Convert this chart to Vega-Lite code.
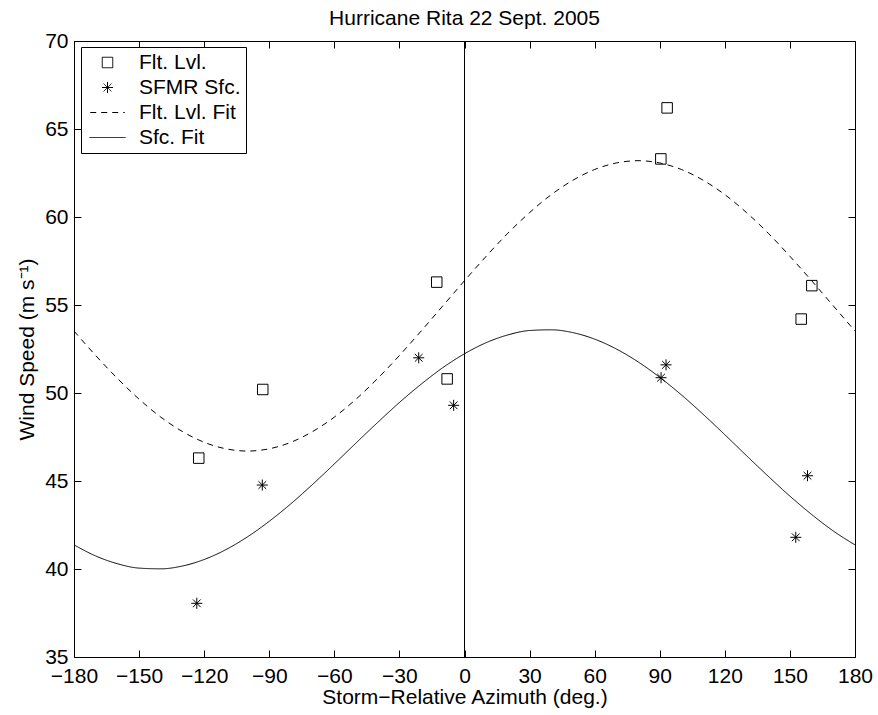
{
  "$schema": "https://vega.github.io/schema/vega-lite/v6.json",
  "width": 781,
  "height": 616,
  "autosize": "none",
  "padding": {"left": 74, "top": 41, "right": 23, "bottom": 58},
  "background": "white",
  "title": {
    "text": "Hurricane Rita 22 Sept. 2005",
    "font": "Liberation Sans",
    "fontSize": 21,
    "fontWeight": "normal",
    "color": "black",
    "anchor": "middle",
    "frame": "group",
    "offset": 1
  },
  "datasets": {
    "fit": [
      {"az": -180, "speed": 53.52, "series": "Flt. Lvl. Fit"},
      {"az": -170, "speed": 52.13, "series": "Flt. Lvl. Fit"},
      {"az": -160, "speed": 50.83, "series": "Flt. Lvl. Fit"},
      {"az": -150, "speed": 49.65, "series": "Flt. Lvl. Fit"},
      {"az": -140, "speed": 48.63, "series": "Flt. Lvl. Fit"},
      {"az": -130, "speed": 47.81, "series": "Flt. Lvl. Fit"},
      {"az": -120, "speed": 47.20, "series": "Flt. Lvl. Fit"},
      {"az": -110, "speed": 46.83, "series": "Flt. Lvl. Fit"},
      {"az": -100, "speed": 46.70, "series": "Flt. Lvl. Fit"},
      {"az": -90, "speed": 46.83, "series": "Flt. Lvl. Fit"},
      {"az": -80, "speed": 47.20, "series": "Flt. Lvl. Fit"},
      {"az": -70, "speed": 47.81, "series": "Flt. Lvl. Fit"},
      {"az": -60, "speed": 48.63, "series": "Flt. Lvl. Fit"},
      {"az": -50, "speed": 49.65, "series": "Flt. Lvl. Fit"},
      {"az": -40, "speed": 50.83, "series": "Flt. Lvl. Fit"},
      {"az": -30, "speed": 52.13, "series": "Flt. Lvl. Fit"},
      {"az": -20, "speed": 53.52, "series": "Flt. Lvl. Fit"},
      {"az": -10, "speed": 54.95, "series": "Flt. Lvl. Fit"},
      {"az": 0, "speed": 56.38, "series": "Flt. Lvl. Fit"},
      {"az": 10, "speed": 57.77, "series": "Flt. Lvl. Fit"},
      {"az": 20, "speed": 59.08, "series": "Flt. Lvl. Fit"},
      {"az": 30, "speed": 60.25, "series": "Flt. Lvl. Fit"},
      {"az": 40, "speed": 61.27, "series": "Flt. Lvl. Fit"},
      {"az": 50, "speed": 62.09, "series": "Flt. Lvl. Fit"},
      {"az": 60, "speed": 62.70, "series": "Flt. Lvl. Fit"},
      {"az": 70, "speed": 63.07, "series": "Flt. Lvl. Fit"},
      {"az": 80, "speed": 63.20, "series": "Flt. Lvl. Fit"},
      {"az": 90, "speed": 63.07, "series": "Flt. Lvl. Fit"},
      {"az": 100, "speed": 62.70, "series": "Flt. Lvl. Fit"},
      {"az": 110, "speed": 62.09, "series": "Flt. Lvl. Fit"},
      {"az": 120, "speed": 61.27, "series": "Flt. Lvl. Fit"},
      {"az": 130, "speed": 60.25, "series": "Flt. Lvl. Fit"},
      {"az": 140, "speed": 59.08, "series": "Flt. Lvl. Fit"},
      {"az": 150, "speed": 57.77, "series": "Flt. Lvl. Fit"},
      {"az": 160, "speed": 56.38, "series": "Flt. Lvl. Fit"},
      {"az": 170, "speed": 54.95, "series": "Flt. Lvl. Fit"},
      {"az": 180, "speed": 53.52, "series": "Flt. Lvl. Fit"},
      {"az": -180, "speed": 41.37, "series": "Sfc. Fit"},
      {"az": -170, "speed": 40.74, "series": "Sfc. Fit"},
      {"az": -160, "speed": 40.30, "series": "Sfc. Fit"},
      {"az": -150, "speed": 40.05, "series": "Sfc. Fit"},
      {"az": -140, "speed": 40.01, "series": "Sfc. Fit"},
      {"az": -130, "speed": 40.17, "series": "Sfc. Fit"},
      {"az": -120, "speed": 40.54, "series": "Sfc. Fit"},
      {"az": -110, "speed": 41.10, "series": "Sfc. Fit"},
      {"az": -100, "speed": 41.83, "series": "Sfc. Fit"},
      {"az": -90, "speed": 42.71, "series": "Sfc. Fit"},
      {"az": -80, "speed": 43.71, "series": "Sfc. Fit"},
      {"az": -70, "speed": 44.81, "series": "Sfc. Fit"},
      {"az": -60, "speed": 45.97, "series": "Sfc. Fit"},
      {"az": -50, "speed": 47.16, "series": "Sfc. Fit"},
      {"az": -40, "speed": 48.33, "series": "Sfc. Fit"},
      {"az": -30, "speed": 49.46, "series": "Sfc. Fit"},
      {"az": -20, "speed": 50.50, "series": "Sfc. Fit"},
      {"az": -10, "speed": 51.44, "series": "Sfc. Fit"},
      {"az": 0, "speed": 52.23, "series": "Sfc. Fit"},
      {"az": 10, "speed": 52.86, "series": "Sfc. Fit"},
      {"az": 20, "speed": 53.30, "series": "Sfc. Fit"},
      {"az": 30, "speed": 53.55, "series": "Sfc. Fit"},
      {"az": 40, "speed": 53.59, "series": "Sfc. Fit"},
      {"az": 50, "speed": 53.43, "series": "Sfc. Fit"},
      {"az": 60, "speed": 53.06, "series": "Sfc. Fit"},
      {"az": 70, "speed": 52.50, "series": "Sfc. Fit"},
      {"az": 80, "speed": 51.77, "series": "Sfc. Fit"},
      {"az": 90, "speed": 50.89, "series": "Sfc. Fit"},
      {"az": 100, "speed": 49.89, "series": "Sfc. Fit"},
      {"az": 110, "speed": 48.79, "series": "Sfc. Fit"},
      {"az": 120, "speed": 47.63, "series": "Sfc. Fit"},
      {"az": 130, "speed": 46.44, "series": "Sfc. Fit"},
      {"az": 140, "speed": 45.27, "series": "Sfc. Fit"},
      {"az": 150, "speed": 44.14, "series": "Sfc. Fit"},
      {"az": 160, "speed": 43.10, "series": "Sfc. Fit"},
      {"az": 170, "speed": 42.16, "series": "Sfc. Fit"},
      {"az": 180, "speed": 41.37, "series": "Sfc. Fit"}
    ],
    "obs": [
      {"az": -122.5, "speed": 46.3, "series": "Flt. Lvl."},
      {"az": -93, "speed": 50.2, "series": "Flt. Lvl."},
      {"az": -12.8, "speed": 56.3, "series": "Flt. Lvl."},
      {"az": -8, "speed": 50.8, "series": "Flt. Lvl."},
      {"az": 90.5, "speed": 63.3, "series": "Flt. Lvl."},
      {"az": 93.4, "speed": 66.2, "series": "Flt. Lvl."},
      {"az": 155.2, "speed": 54.2, "series": "Flt. Lvl."},
      {"az": 160.1, "speed": 56.1, "series": "Flt. Lvl."},
      {"az": -123.4, "speed": 38.05, "series": "SFMR Sfc."},
      {"az": -93.2, "speed": 44.77, "series": "SFMR Sfc."},
      {"az": -21.1, "speed": 52.0, "series": "SFMR Sfc."},
      {"az": -5, "speed": 49.3, "series": "SFMR Sfc."},
      {"az": 90.6, "speed": 50.87, "series": "SFMR Sfc."},
      {"az": 92.9, "speed": 51.6, "series": "SFMR Sfc."},
      {"az": 152.7, "speed": 41.8, "series": "SFMR Sfc."},
      {"az": 158.1, "speed": 45.3, "series": "SFMR Sfc."}
    ],
    "zero": [{"az": 0}]
  },
  "layer": [
    {
      "data": {"name": "zero"},
      "mark": {"type": "rule", "color": "black", "strokeWidth": 1},
      "encoding": {
        "x": {
          "field": "az", "type": "quantitative",
          "scale": {"domain": [-180, 180], "nice": false, "zero": false},
          "axis": {
            "orient": "bottom",
            "title": "Storm\u2212Relative Azimuth (deg.)",
            "values": [-180, -150, -120, -90, -60, -30, 0, 30, 60, 90, 120, 150, 180],
            "ticks": false, "domain": false, "grid": false,
            "labelPadding": 8, "titlePadding": 0,
            "labelFlush": false, "labelOverlap": false
          }
        },
        "y": {
          "datum": 35, "type": "quantitative",
          "scale": {"domain": [35, 70], "nice": false, "zero": false},
          "axis": {
            "orient": "left",
            "title": "Wind Speed (m s\u207b\u00b9)",
            "values": [35, 40, 45, 50, 55, 60, 65, 70],
            "ticks": false, "domain": false, "grid": false,
            "labelPadding": 6, "titlePadding": 7,
            "labelFlush": false, "labelOverlap": false
          }
        },
        "y2": {"datum": 70}
      }
    },
    {
      "data": {"name": "fit"},
      "mark": {"type": "line", "color": "black", "strokeWidth": 1, "interpolate": "monotone"},
      "encoding": {
        "x": {
          "field": "az", "type": "quantitative",
          "axis": {
            "orient": "bottom", "title": null, "labels": false, "domain": false, "grid": false,
            "values": [-180, -150, -120, -90, -60, -30, 0, 30, 60, 90, 120, 150, 180],
            "ticks": true, "tickSize": -7, "minExtent": 0, "maxExtent": 0
          }
        },
        "y": {
          "field": "speed", "type": "quantitative",
          "axis": {
            "orient": "left", "title": null, "labels": false, "domain": false, "grid": false,
            "values": [35, 40, 45, 50, 55, 60, 65, 70],
            "ticks": true, "tickSize": -7, "minExtent": 0, "maxExtent": 0
          }
        },
        "detail": {"field": "series", "type": "nominal"},
        "strokeDash": {
          "field": "series", "type": "nominal",
          "scale": {
            "domain": ["Flt. Lvl.", "SFMR Sfc.", "Flt. Lvl. Fit", "Sfc. Fit"],
            "range": [[1, 0], [1, 0], [6, 5], [1, 0]]
          },
          "legend": {"title": null}
        }
      }
    },
    {
      "data": {"name": "obs"},
      "mark": {"type": "point", "filled": false, "stroke": "black", "strokeWidth": 1, "opacity": 1},
      "encoding": {
        "x": {
          "field": "az", "type": "quantitative",
          "axis": {
            "orient": "top", "title": null, "labels": false, "domain": false, "grid": false,
            "values": [-180, -150, -120, -90, -60, -30, 0, 30, 60, 90, 120, 150, 180],
            "ticks": true, "tickSize": -7, "minExtent": 0, "maxExtent": 0
          }
        },
        "y": {
          "field": "speed", "type": "quantitative",
          "axis": {
            "orient": "right", "title": null, "labels": false, "domain": false, "grid": false,
            "values": [35, 40, 45, 50, 55, 60, 65, 70],
            "ticks": true, "tickSize": -7, "minExtent": 0, "maxExtent": 0
          }
        },
        "shape": {
          "field": "series", "type": "nominal",
          "scale": {
            "domain": ["Flt. Lvl.", "SFMR Sfc.", "Flt. Lvl. Fit", "Sfc. Fit"],
            "range": ["square", "M0,-1L0,1M-1,0L1,0M-0.7,-0.7L0.7,0.7M-0.7,0.7L0.7,-0.7", "M-3,0L3,0", "M-3,0L3,0"]
          },
          "legend": {"title": null}
        },
        "size": {
          "field": "series", "type": "nominal",
          "scale": {
            "domain": ["Flt. Lvl.", "SFMR Sfc.", "Flt. Lvl. Fit", "Sfc. Fit"],
            "range": [110, 144, 462, 462]
          },
          "legend": {"title": null}
        }
      }
    }
  ],
  "resolve": {"axis": {"x": "independent", "y": "independent"}},
  "config": {
    "font": "Liberation Sans",
    "view": {"stroke": "black", "strokeWidth": 1},
    "axis": {
      "labelFont": "Liberation Sans", "labelFontSize": 21, "labelColor": "black",
      "titleFont": "Liberation Sans", "titleFontSize": 21, "titleColor": "black", "titleFontWeight": "normal",
      "tickColor": "black", "tickWidth": 1
    },
    "legend": {
      "orient": "none", "legendX": 7, "legendY": 6,
      "symbolOffset": 11, "labelOffset": 21,
      "symbolStrokeColor": "black", "symbolFillColor": "transparent", "symbolStrokeWidth": 1, "symbolOpacity": 1,
      "labelFont": "Liberation Sans", "labelFontSize": 21, "labelColor": "black",
      "labelExpr": "datum.label + '\u00a0'",
      "strokeColor": "black", "fillColor": "white", "padding": 5, "rowPadding": 3
    }
  }
}
